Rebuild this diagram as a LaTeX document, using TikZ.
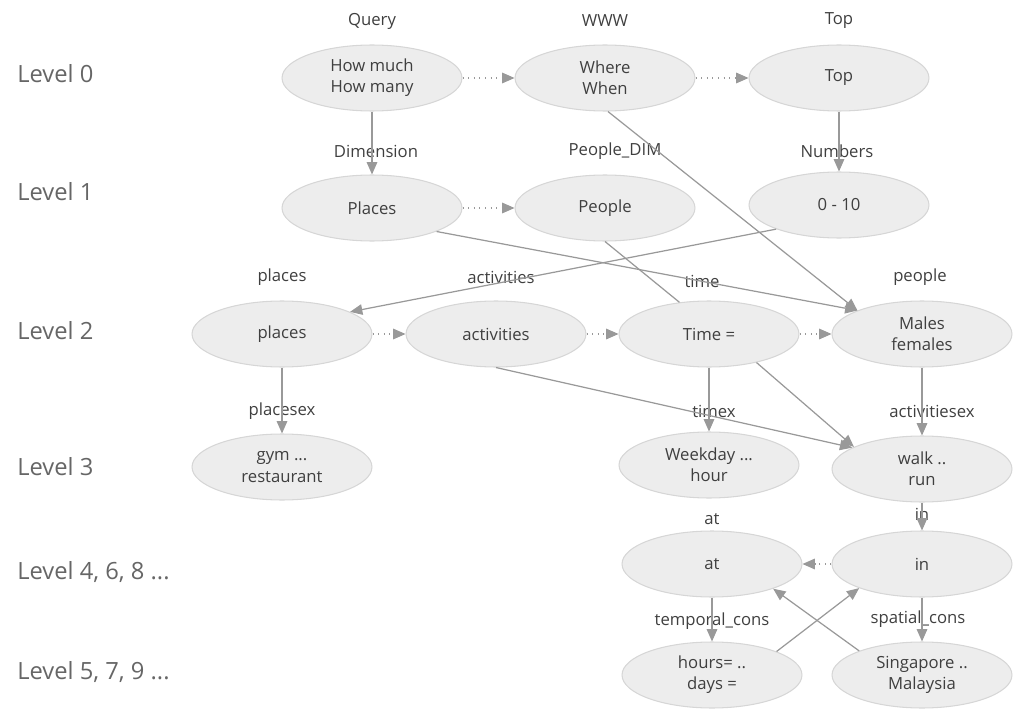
\documentclass[tikz,border=0pt]{standalone}
\usepackage{fontspec}
\setmainfont{Open Sans}
\usetikzlibrary{shapes.geometric,arrows.meta,positioning}

\definecolor{nodefill}{HTML}{EDEDED}
\definecolor{nodeline}{HTML}{D6D6D6}
\definecolor{edgegray}{HTML}{999999}
\definecolor{textgray}{HTML}{3F3F3F}
\definecolor{levelgray}{HTML}{666666}

\begin{document}
\begin{tikzpicture}[x=0.02cm, y=-0.02cm,
    item/.style={ellipse, draw=nodeline, fill=nodefill, line width=0.6pt, minimum width=3.6cm, minimum height=1.32cm, inner sep=0pt, align=center, text=textgray, font=\fontsize{9.5}{12}\selectfont},
    title/.style={text=textgray, font=\fontsize{9.5}{12}\selectfont},
    level/.style={anchor=west, inner sep=0pt, text=levelgray, font=\fontsize{13.5}{16}\selectfont},
    arrow/.style={draw=edgegray, line width=0.7pt, -{Triangle[length=7pt,width=6pt]}},
    link/.style={arrow, dash pattern=on 0.6pt off 2.6pt},
    plain/.style={draw=edgegray, line width=0.7pt}]

        \useasboundingbox (0,0) rectangle (1018,713);

        % Levels
        \node [level] (L0) at (17,74) {Level 0};
        \node [level] (L1) at (17,192) {Level 1};
        \node [level] (L2) at (17,331) {Level 2};
        \node [level] (L3) at (17,467) {Level 3};
        \node [level] (L4) at (17,572) {Level 4, 6, 8 ...};
        \node [level] (L5) at (17,672) {Level 5, 7, 9 ...};

        % Level 0
        \node [item] (howmuch) at (372,78) {How much\\How many};
        \node [item] (where) at (605,78) {Where\\When};
        \node [item] (top) at (839,78) {Top};
        \node [title] (t_query) at (372,21) {Query};
        \node [title] (t_www) at (605,21) {WWW};
        \node [title] (t_top) at (839,21) {Top};

        % Level 1
        \node [item] (Places) at (372,208) {Places};
        \node [item] (People) at (605,208) {People};
        \node [item] (numbers) at (839,205) {0 - 10};
        \node [title] (t_dim) at (376,151) {Dimension};
        \node [title] (t_peopledim) at (615,151) {People\_DIM};
        \node [title] (t_numbers) at (837,151) {Numbers};

        % Level 2
        \node [item] (places) at (282,334) {places};
        \node [item] (activities) at (496,334) {activities};
        \node [item] (time) at (709,334) {Time =};
        \node [item] (males) at (922,334) {Males\\females};
        \node [title] (t_places) at (282,277) {places};
        \node [title] (t_activities) at (501,277) {activities};
        \node [title] (t_time) at (702,281) {time};
        \node [title] (t_people) at (920,277) {people};

        % Level 3
        \node [item] (gym) at (282,467) {gym ...\\restaurant};
        \node [item] (weekday) at (709,465) {Weekday ...\\hour};
        \node [item] (walk) at (922,469) {walk ..\\run};
        \node [title] (t_placesex) at (282,411) {placesex};
        \node [title] (t_timex) at (714,411) {timex};
        \node [title] (t_activitiesex) at (932,411) {activitiesex};

        % Level 4
        \node [item] (at) at (712,564) {at};
        \node [item] (in) at (922,564) {in};
        \node [title] (t_at) at (712,519) {at};
        \node [title] (t_in) at (922,514) {in};

        % Level 5
        \node [item] (hours) at (712,675) {hours= ..\\days =};
        \node [item] (singapore) at (922,675) {Singapore ..\\Malaysia};
        \node [title] (t_temporal) at (712,621) {temporal\_cons};
        \node [title] (t_spatial) at (918,619) {spatial\_cons};

        % Arrows
        \draw [link] (howmuch) -- (where);
        \draw [link] (where) -- (top);
        \draw [arrow] (howmuch) -- (Places);
        \draw [arrow] (top) -- (numbers);
        \draw [link] (Places) -- (People);

        \draw [arrow] (where.275) -- (males.160);
        \draw [arrow] (Places.340) -- (males.160);
        \draw [arrow] (numbers.201) -- (places.18);
        \draw [plain] (People.270) -- (time.133);

        \draw [link] (places) -- (activities);
        \draw [link] (activities) -- (time);
        \draw [link] (time) -- (males);

        \draw [arrow] (places) -- (gym);
        \draw [arrow] (time) -- (weekday);
        \draw [arrow] (males) -- (walk);
        \draw [arrow] (activities.270) -- (walk.163);
        \draw [arrow] (time.329) -- (walk.162);

        \draw [arrow] (walk) -- (in);
        \draw [link] (in) -- (at);
        \draw [arrow] (at) -- (hours);
        \draw [arrow] (in) -- (singapore);
        \draw [arrow] (hours.20) -- (in.201);
        \draw [arrow] (singapore.159) -- (at.338);

    \end{tikzpicture}
\end{document}
